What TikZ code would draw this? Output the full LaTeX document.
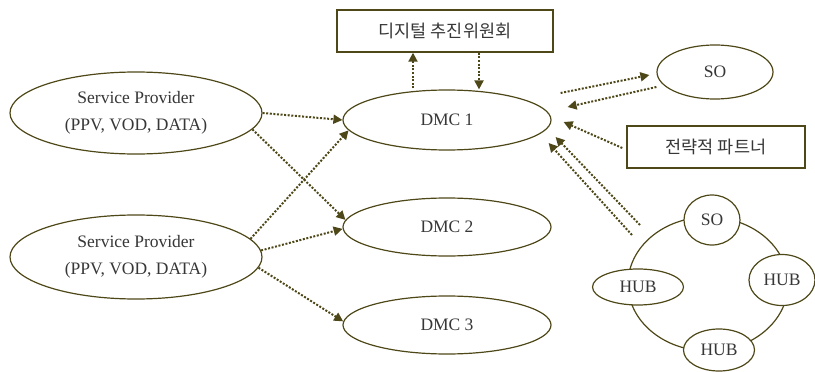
\documentclass[tikz,border=0pt]{standalone}
\usepackage{fontspec}
\setmainfont{Liberation Serif}
\newfontfamily\kr{Noto Sans CJK KR}
\usetikzlibrary{arrows.meta,shapes.geometric,calc}
\definecolor{linecol}{RGB}{78,72,24}
\definecolor{txtcol}{RGB}{55,55,55}
\begin{document}
\begin{tikzpicture}[x=1pt,y=-1pt,
  every node/.style={text=txtcol,font=\fontsize{17.5}{27}\selectfont},
  krtext/.style={font=\kr\fontsize{17.5}{21}\selectfont},
  oval/.style={ellipse,draw=linecol,line width=1.2pt,fill=white,inner sep=0pt,align=center},
  box/.style={rectangle,draw=linecol,line width=1.4pt,fill=white,inner sep=0pt},
  arr/.style={draw=linecol,line width=2pt,dash pattern=on 2pt off 1.6pt,
              -{Triangle[length=9pt,width=9pt]}},
  ring/.style={draw=linecol,line width=1.2pt}]
\useasboundingbox (0,0) rectangle (815,372);

% top committee and strategic partner boxes
\node[box,krtext,minimum width=216pt,minimum height=42pt] (dc) at (445,31) {디지털 추진위원회};
\node[box,krtext,minimum width=178pt,minimum height=42pt] (partner) at (716,147) {전략적 파트너};

% DMC centres
\node[oval,minimum width=208pt,minimum height=60pt] (dmc1) at (447,120) {DMC 1};
\node[oval,minimum width=208pt,minimum height=58pt] (dmc2) at (447,227) {DMC 2};
\node[oval,minimum width=208pt,minimum height=58pt] (dmc3) at (447,325) {DMC 3};

% service providers
\node[oval,minimum width=252pt,minimum height=82pt] (sp1) at (136,113) {Service Provider\\(PPV, VOD, DATA)};
\node[oval,minimum width=252pt,minimum height=84pt] (sp2) at (136,257) {Service Provider\\(PPV, VOD, DATA)};

% system operator
\node[oval,minimum width=116pt,minimum height=54pt] (so) at (715,72) {SO};

% hub ring
\coordinate (ringc) at (708,284);
\draw[ring] (ringc) ellipse [x radius=80, y radius=67];
\node[oval,minimum width=56pt,minimum height=50pt] (rso) at (712,220) {SO};
\node[oval,minimum width=66pt,minimum height=51pt] (hubr) at (782,280) {HUB};
\node[oval,minimum width=91pt,minimum height=36pt] (hubl) at (638,287) {HUB};
\node[oval,minimum width=71pt,minimum height=42pt] (hubb) at (719,350) {HUB};

% provider links
\draw[arr] (sp1.east) -- (dmc1.west);
\draw[arr] (sp1.-8) -- (dmc2.176);
\draw[arr] (sp2.9) -- (dmc1.186);
\draw[arr] (sp2.3) -- (dmc2.181);
\draw[arr] (sp2.-5) -- (dmc3.178);

% committee links
\draw[arr] ($(dmc1.north)+(-34,-1)$) -- ($(dc.south)+(-32,0)$);
\draw[arr] ($(dc.south)+(34,0)$) -- ($(dmc1.north)+(32,0)$);

% SO and partner links
\draw[arr] ($(dmc1.east)+(9,-27)$) -- ($(so.west)+(-7,3)$);
\draw[arr] ($(so.west)+(0,15)$) -- ($(dmc1.east)+(16,-13)$);
\draw[arr] ($(partner.west)+(-4,1)$) -- ($(dmc1.east)+(12,2)$);

% ring links
\draw[arr] ($(ringc)+(-68,-59)$) -- ($(dmc1.east)+(4,17)$);
\draw[arr] ($(ringc)+(-76,-49)$) -- ($(dmc1.east)+(-3,23)$);
\end{tikzpicture}
\end{document}
